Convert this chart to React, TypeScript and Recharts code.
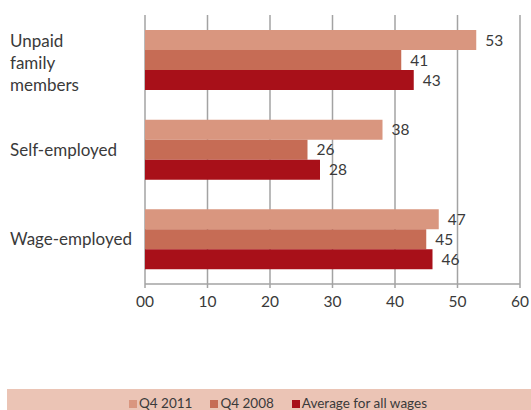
import React from "react";
import { BarChart, Bar, XAxis, YAxis, CartesianGrid, Legend, LabelList } from "recharts";

const categories = ["Unpaid family members", "Self-employed", "Wage-employed"];
const seriesNames = ["Q4 2011", "Q4 2008", "Average for all wages"];
const q42011 = [53, 38, 47];
const q42008 = [41, 26, 45];
const averageAllWages = [43, 28, 46];
const xTicks = [0, 10, 20, 30, 40, 50, 60];
const xTickLabels = ["00", "10", "20", "30", "40", "50", "60"];
const boundaryTicks = [0, 1, 2, 3];

const data = categories.map((name, i) => ({
  name,
  q2011: q42011[i],
  q2008: q42008[i],
  avg: averageAllWages[i],
}));

const FONT = "Lato, 'Open Sans', sans-serif";
const TEXT = "#3a3a3a";
const AXIS = "#a3a3a3";

const CategoryTick = ({ y, payload }: any) => {
  const lines = String(payload.value).split(" ");
  const lh = 22;
  const first = y + (lines.length > 1 ? 9 : 6) - ((lines.length - 1) * lh) / 2;
  return (
    <text x={10} y={first} fontSize={17} fill={TEXT} fontFamily={FONT}>
      {lines.map((l, i) => (
        <tspan key={i} x={10} y={first + i * lh}>
          {l}
        </tspan>
      ))}
    </text>
  );
};

const LegendContent = ({ payload }: any) => {
  const items = [...(payload || [])].sort(
    (a: any, b: any) => seriesNames.indexOf(a.value) - seriesNames.indexOf(b.value)
  );
  return (
    <div
      style={{
        display: "flex",
        justifyContent: "center",
        alignItems: "flex-end",
        height: 21,
        paddingLeft: 36,
        fontFamily: FONT,
        fontSize: 13.5,
        color: TEXT,
        lineHeight: "13px",
      }}
    >
      {items.map((p: any, i: number) => (
        <div key={i} style={{ display: "flex", alignItems: "center", marginRight: 18 }}>
          <span style={{ width: 8, height: 8, background: p.color, marginRight: 2, display: "inline-block" }} />
          <span>{p.value}</span>
        </div>
      ))}
    </div>
  );
};

export default function App() {
  return (
    <div style={{ position: "absolute", left: 0, top: 0, width: 531, height: 410, background: "#fff" }}>
      <BarChart
        width={531}
        height={410}
        data={data}
        layout="vertical"
        margin={{ top: 15, right: 11, bottom: 75, left: 0 }}
        barSize={20}
        barGap={0}
        style={{ fontFamily: FONT }}
      >
        <CartesianGrid horizontal={false} stroke={AXIS} strokeWidth={1.5} />
        <XAxis
          type="number"
          domain={[0, 60]}
          ticks={xTicks}
          tickFormatter={(v: number) => xTickLabels[xTicks.indexOf(v)]}
          axisLine={{ stroke: AXIS, strokeWidth: 1.5 }}
          tickLine={{ stroke: AXIS, strokeWidth: 1.5 }}
          tickSize={4}
          tickMargin={8}
          tick={{ fontSize: 15.5, fill: TEXT, fontFamily: FONT }}
          height={30}
        />
        <YAxis
          yAxisId="bounds"
          type="number"
          orientation="left"
          domain={[0, 3]}
          ticks={boundaryTicks}
          width={0}
          axisLine={{ stroke: AXIS, strokeWidth: 2 }}
          tickLine={{ stroke: AXIS, strokeWidth: 1.5 }}
          tickSize={4}
          tickFormatter={() => ""}
        />
        <YAxis
          yAxisId="cat"
          type="category"
          dataKey="name"
          width={145}
          axisLine={false}
          tickLine={false}
          tick={<CategoryTick />}
        />
        <Legend
          verticalAlign="bottom"
          content={<LegendContent />}
          wrapperStyle={{ left: 7, width: 524, bottom: 0, height: 21, backgroundColor: "#ebc4b5" }}
        />
        <Bar yAxisId="cat" dataKey="q2011" name={seriesNames[0]} fill="#d9967f" isAnimationActive={false}>
          <LabelList dataKey="q2011" position="right" offset={9} fill={TEXT} fontSize={15.5} fontFamily={FONT} />
        </Bar>
        <Bar yAxisId="cat" dataKey="q2008" name={seriesNames[1]} fill="#c66c55" isAnimationActive={false}>
          <LabelList dataKey="q2008" position="right" offset={9} fill={TEXT} fontSize={15.5} fontFamily={FONT} />
        </Bar>
        <Bar yAxisId="cat" dataKey="avg" name={seriesNames[2]} fill="#a81019" isAnimationActive={false}>
          <LabelList dataKey="avg" position="right" offset={9} fill={TEXT} fontSize={15.5} fontFamily={FONT} />
        </Bar>
      </BarChart>
    </div>
  );
}
